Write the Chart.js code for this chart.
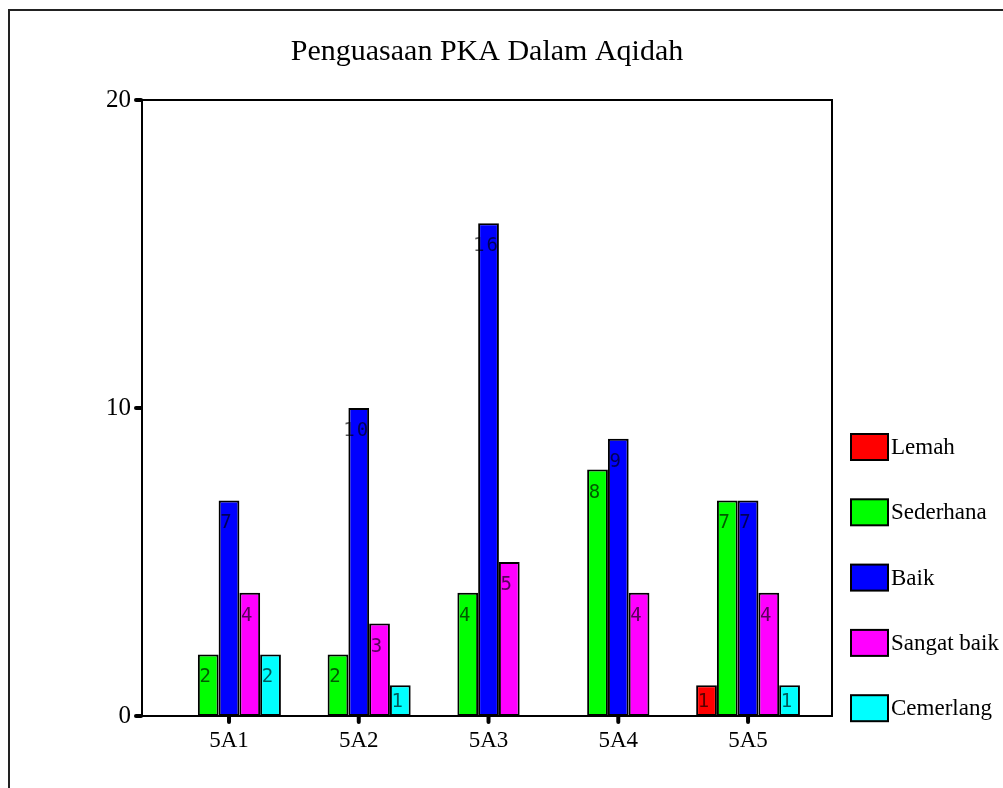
<!DOCTYPE html>
<html>
<head>
<meta charset="utf-8">
<script src="https://cdn.jsdelivr.net/npm/chart.js@4/dist/chart.umd.min.js"></script>
<style>
  html, body { margin: 0; padding: 0; background: #fff; }
  #wrap { width: 1003px; height: 788px; }
</style>
</head>
<body>
<div id="wrap"><canvas id="grafik" width="1003" height="788"></canvas></div>
<script>
const kelas = ["5A1", "5A2", "5A3", "5A4", "5A5"];
const tahap = ["Lemah", "Sederhana", "Baik", "Sangat baik", "Cemerlang"];
const warna = ["#FF0000", "#00FF00", "#0000FF", "#FF00FF", "#00FFFF"];

const lemah      = [null, null, null, null, 1];
const sederhana  = [2, 2, 4, 8, 7];
const baik       = [7, 10, 16, 9, 7];
const sangatBaik = [4, 3, 5, 4, 4];
const cemerlang  = [2, 1, null, null, 1];

const yTicks = [0, 10, 20];
const judul = "Penguasaan PKA Dalam Aqidah";

const siri = [lemah, sederhana, baik, sangatBaik, cemerlang];
const serif = "'Liberation Serif', 'Times New Roman', serif";

const datasets = siri.map((nilai, i) => ({
  label: tahap[i],
  data: nilai.map((v, k) => ({ x: k, y: v })),
  backgroundColor: warna[i],
  borderColor: "#000",
  borderWidth: 2,
  borderSkipped: false,
  categoryPercentage: 0.8,
  barPercentage: 1.0
}));

// frame, title, value labels and legend
const hiasan = {
  id: "hiasan",
  beforeDraw(chart) {
    const ctx = chart.ctx;
    ctx.save();
    ctx.strokeStyle = "#222";
    ctx.lineWidth = 2;
    ctx.strokeRect(9, 10, 1100, 900);
    ctx.restore();
  },
  afterDatasetsDraw(chart) {
    const ctx = chart.ctx;
    const a = chart.chartArea;
    ctx.save();
    ctx.strokeStyle = "#000";
    ctx.lineWidth = 2;
    ctx.strokeRect(a.left, a.top, a.right - a.left, a.bottom - a.top);

    // tick dots
    ctx.lineCap = "round";
    ctx.lineWidth = 4;
    const ys = chart.scales.y;
    yTicks.forEach(t => {
      const py = ys.getPixelForValue(t);
      ctx.beginPath(); ctx.moveTo(a.left - 6, py); ctx.lineTo(a.left - 1, py); ctx.stroke();
    });
    const xs = chart.scales.x;
    kelas.forEach((k, i) => {
      const px = xs.getPixelForValue(i);
      ctx.beginPath(); ctx.moveTo(px, a.bottom + 1); ctx.lineTo(px, a.bottom + 6); ctx.stroke();
    });

    // value labels
    ctx.font = "19px 'DejaVu Sans Mono', monospace";
    ctx.letterSpacing = "2px";
    ctx.fillStyle = "rgba(0,0,0,0.65)";
    ctx.textAlign = "center";
    ctx.textBaseline = "middle";
    chart.data.datasets.forEach((ds, di) => {
      const meta = chart.getDatasetMeta(di);
      meta.data.forEach((el, k) => {
        const v = siri[di][k];
        if (v === null) return;
        const ty = Math.min(el.y + 23, el.base - 14);
        ctx.fillText(String(v), el.x - 2, ty);
      });
    });
    ctx.letterSpacing = "0px";

    // title
    ctx.fillStyle = "#000";
    ctx.font = "30px " + serif;
    ctx.textBaseline = "alphabetic";
    ctx.fillText(judul, 487, 60);

    // legend
    ctx.textAlign = "left";
    ctx.textBaseline = "middle";
    ctx.font = "23px " + serif;
    tahap.forEach((t, i) => {
      const cy = 447 + i * 65.3;
      ctx.fillStyle = warna[i];
      ctx.fillRect(851, cy - 13, 37, 26);
      ctx.strokeStyle = "#000";
      ctx.lineWidth = 2;
      ctx.strokeRect(851, cy - 13, 37, 26);
      ctx.fillStyle = "#000";
      ctx.fillText(t, 891, cy + 1);
    });
    ctx.restore();
  }
};

new Chart(document.getElementById("grafik"), {
  type: "bar",
  data: { datasets },
  options: {
    responsive: false,
    animation: false,
    layout: { padding: { top: 100, right: 171, left: 0, bottom: 0 } },
    plugins: {
      legend: { display: false },
      title: { display: false },
      tooltip: { enabled: false }
    },
    scales: {
      x: {
        type: "linear",
        offset: false,
        min: -0.6705,
        max: 4.647,
        afterBuildTicks: s => { s.ticks = kelas.map((_, i) => ({ value: i })); },
        afterFit: s => { s.height = 72; },
        grid: { display: false, drawTicks: false },
        border: { display: false },
        ticks: {
          padding: 11,
          color: "#000",
          font: { family: serif, size: 23 },
          callback: v => kelas[v] ?? ""
        }
      },
      y: {
        min: 0,
        max: 20,
        afterBuildTicks: s => { s.ticks = yTicks.map(v => ({ value: v })); },
        afterFit: s => { s.width = 142; },
        grid: { display: false, drawTicks: false },
        border: { display: false },
        ticks: {
          padding: 11,
          color: "#000",
          font: { family: serif, size: 25 }
        }
      }
    }
  },
  plugins: [hiasan]
});
</script>
</body>
</html>
